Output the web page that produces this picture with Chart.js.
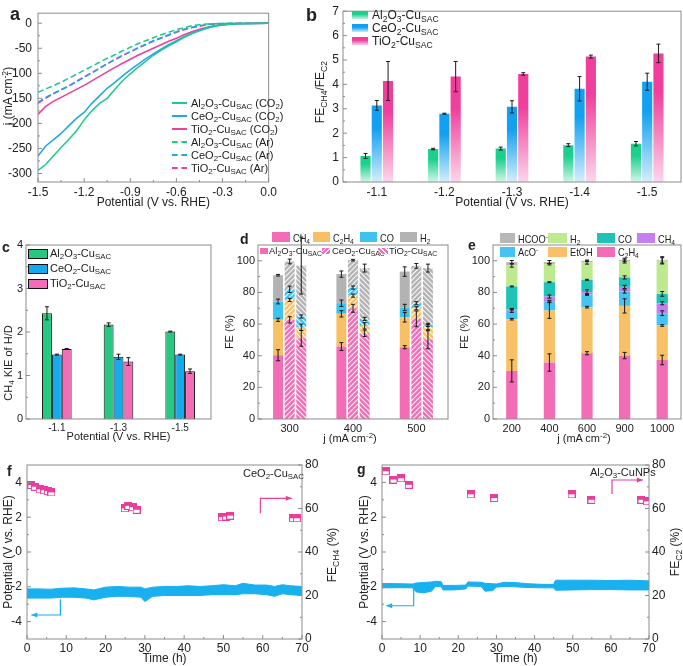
<!DOCTYPE html>
<html>
<head>
<meta charset="utf-8">
<script src="https://cdn.jsdelivr.net/npm/chart.js@4.4.1/dist/chart.umd.min.js"></script>
<style>
  body { margin: 0; background: #fff; font-family: "Liberation Sans", Arial, sans-serif; color: #222; }
  #fig { position: relative; width: 683px; height: 666px; overflow: hidden; }
  canvas { position: absolute; }
  .t { position: absolute; white-space: nowrap; font-size: 11px; line-height: 12px; }
  .n { font-size: 10.5px; transform: scaleX(0.88); transform-origin: left center; }
  .ctr { position: absolute; white-space: nowrap; font-size: 12px; transform: translate(-50%, -50%); }
  .rot { position: absolute; white-space: nowrap; font-size: 12px; transform: translate(-50%, -50%) rotate(-90deg); }
  .lab { position: absolute; font-weight: bold; font-size: 14px; line-height: 14px; }
  sub { font-size: 0.72em; vertical-align: -0.3em; line-height: 0; }
  sup { font-size: 0.72em; vertical-align: 0.5em; line-height: 0; }
  .ln { display: inline-block; width: 15px; height: 0; vertical-align: middle; margin-right: 4px; position: relative; top: -1px; }
  .bx { position: absolute; }
</style>
</head>
<body>
<div id="fig">
  <canvas id="ca" width="280" height="212" style="left:0;top:0"></canvas>
  <canvas id="cb" width="383" height="212" style="left:300px;top:0"></canvas>
  <canvas id="cc" width="215" height="223" style="left:0;top:222px"></canvas>
  <canvas id="cd" width="240" height="223" style="left:215px;top:222px"></canvas>
  <canvas id="ce" width="233" height="223" style="left:450px;top:222px"></canvas>
  <canvas id="cf" width="340" height="221" style="left:0;top:445px"></canvas>
  <canvas id="cg" width="343" height="221" style="left:340px;top:445px"></canvas>

  <!-- panel letters -->
  <div class="lab" style="left:10px;top:5px;font-size:18px;line-height:18px">a</div>
  <div class="lab" style="left:306px;top:6px;font-size:18px;line-height:18px">b</div>
  <div class="lab" style="left:2px;top:240px">c</div>
  <div class="lab" style="left:240px;top:232px">d</div>
  <div class="lab" style="left:468px;top:238px">e</div>
  <div class="lab" style="left:7px;top:464px">f</div>
  <div class="lab" style="left:357px;top:462px">g</div>

  <!-- axis titles with sub/superscripts -->
  <div class="rot" style="left:8px;top:96px">j (mA cm<sup>-2</sup>)</div>
  <div class="rot" style="left:320px;top:92px">FE<sub>CH4</sub>/FE<sub>C2</sub></div>
  <div class="rot" style="left:8px;top:363px;font-size:11px">CH<sub>4</sub> KIE of H/D</div>
  <div class="ctr" style="left:350px;top:438px;font-size:11px">j (mA cm<sup>-2</sup>)</div>
  <div class="ctr" style="left:584px;top:438px;font-size:11px">j (mA cm<sup>-2</sup>)</div>
  <div class="rot" style="left:332px;top:555px">FE<sub>CH4</sub> (%)</div>
  <div class="rot" style="left:675px;top:552px">FE<sub>C2</sub> (%)</div>

  <!-- legend a -->
  <div class="t" style="left:172px;top:97px"><span class="ln" style="border-top:2px solid #1fc98b"></span>Al<sub>2</sub>O<sub>3</sub>-Cu<sub>SAC</sub> (CO<sub>2</sub>)</div>
  <div class="t" style="left:172px;top:110px"><span class="ln" style="border-top:2px solid #1ea6e6"></span>CeO<sub>2</sub>-Cu<sub>SAC</sub> (CO<sub>2</sub>)</div>
  <div class="t" style="left:172px;top:123px"><span class="ln" style="border-top:2px solid #ef3f97"></span>TiO<sub>2</sub>-Cu<sub>SAC</sub> (CO<sub>2</sub>)</div>
  <div class="t" style="left:172px;top:136px"><span class="ln" style="border-top:2px dashed #1fc98b"></span>Al<sub>2</sub>O<sub>3</sub>-Cu<sub>SAC</sub> (Ar)</div>
  <div class="t" style="left:172px;top:149px"><span class="ln" style="border-top:2px dashed #1ea6e6"></span>CeO<sub>2</sub>-Cu<sub>SAC</sub> (Ar)</div>
  <div class="t" style="left:172px;top:162px"><span class="ln" style="border-top:2px dashed #ef3f97"></span>TiO<sub>2</sub>-Cu<sub>SAC</sub> (Ar)</div>

  <!-- legend b -->
  <div class="bx" style="left:352px;top:11px;width:16px;height:8px;background:linear-gradient(#19d08c 40%,#c9f3e2)"></div>
  <div class="t" style="left:372px;top:9px;font-size:12px">Al<sub>2</sub>O<sub>3</sub>-Cu<sub>SAC</sub></div>
  <div class="bx" style="left:352px;top:24px;width:16px;height:8px;background:linear-gradient(#12a1f0 40%,#cdeafc)"></div>
  <div class="t" style="left:372px;top:22px;font-size:12px">CeO<sub>2</sub>-Cu<sub>SAC</sub></div>
  <div class="bx" style="left:352px;top:37px;width:16px;height:8px;background:linear-gradient(#f03e9c 40%,#fbd2e8)"></div>
  <div class="t" style="left:372px;top:35px;font-size:12px">TiO<sub>2</sub>-Cu<sub>SAC</sub></div>

  <!-- legend c -->
  <div class="bx" style="left:28px;top:249px;width:18px;height:8px;background:#25c97f;border:1px solid #111"></div>
  <div class="t" style="left:50px;top:247px">Al<sub>2</sub>O<sub>3</sub>-Cu<sub>SAC</sub></div>
  <div class="bx" style="left:28px;top:264px;width:18px;height:8px;background:#13aaee;border:1px solid #111"></div>
  <div class="t" style="left:50px;top:262px">CeO<sub>2</sub>-Cu<sub>SAC</sub></div>
  <div class="bx" style="left:28px;top:279px;width:18px;height:8px;background:#f26db5;border:1px solid #111"></div>
  <div class="t" style="left:50px;top:277px">TiO<sub>2</sub>-Cu<sub>SAC</sub></div>

  <!-- legend d -->
  <div class="bx" style="left:272px;top:232px;width:18px;height:10px;background:#f36cb6"></div>
  <div class="t n" style="left:293px;top:232px">CH<sub>4</sub></div>
  <div class="bx" style="left:313px;top:232px;width:17px;height:10px;background:#f8c064"></div>
  <div class="t n" style="left:333px;top:232px">C<sub>2</sub>H<sub>4</sub></div>
  <div class="bx" style="left:360px;top:232px;width:17px;height:10px;background:#3ec3f0"></div>
  <div class="t n" style="left:380px;top:232px">CO</div>
  <div class="bx" style="left:400px;top:232px;width:17px;height:10px;background:#b3b3b3"></div>
  <div class="t n" style="left:420px;top:232px">H<sub>2</sub></div>
  <div class="bx" style="left:260px;top:248px;width:8px;height:6px;background:#f36cb6"></div>
  <div class="t" style="left:269px;top:245px;font-size:9.5px">Al<sub>2</sub>O<sub>3</sub>-Cu<sub>SAC</sub></div>
  <div class="bx" style="left:322px;top:248px;width:8px;height:6px;background:repeating-linear-gradient(135deg,#f36cb6 0 2.2px,#fff 2.2px 3.3px)"></div>
  <div class="t" style="left:332px;top:245px;font-size:9.5px">CeO<sub>2</sub>-Cu<sub>SAC</sub></div>
  <div class="bx" style="left:378px;top:248px;width:10px;height:6px;background:repeating-linear-gradient(45deg,#f36cb6 0 2.2px,#fff 2.2px 3.3px)"></div>
  <div class="t" style="left:389px;top:245px;font-size:9.5px">TiO<sub>2</sub>-Cu<sub>SAC</sub></div>

  <!-- legend e -->
  <div class="bx" style="left:500px;top:233px;width:15px;height:10px;background:#b8b8b8"></div>
  <div class="t n" style="left:518px;top:233px">HCOO<sup>-</sup></div>
  <div class="bx" style="left:548px;top:233px;width:19px;height:10px;background:#bde98f"></div>
  <div class="t n" style="left:570px;top:233px">H<sub>2</sub></div>
  <div class="bx" style="left:597px;top:233px;width:18px;height:10px;background:#1cc3b6"></div>
  <div class="t n" style="left:618px;top:233px">CO</div>
  <div class="bx" style="left:637px;top:233px;width:18px;height:10px;background:#c57ff0"></div>
  <div class="t n" style="left:658px;top:233px">CH<sub>4</sub></div>
  <div class="bx" style="left:500px;top:247px;width:15px;height:10px;background:#45c3f3"></div>
  <div class="t n" style="left:518px;top:246px">AcO<sup>-</sup></div>
  <div class="bx" style="left:548px;top:247px;width:19px;height:10px;background:#f8c168"></div>
  <div class="t n" style="left:570px;top:246px">EtOH</div>
  <div class="bx" style="left:597px;top:247px;width:18px;height:10px;background:#f36cb6"></div>
  <div class="t n" style="left:618px;top:246px">C<sub>2</sub>H<sub>4</sub></div>

  <!-- in-plot labels f, g -->
  <div class="t" style="left:243px;top:467px">CeO<sub>2</sub>-Cu<sub>SAC</sub></div>
  <div class="t" style="left:590px;top:466px">Al<sub>2</sub>O<sub>3</sub>-CuNPs</div>
</div>

<script>
// ---------- DATA ----------

// a: LSV curves
const aPot = [-1.5, -1.45, -1.4, -1.35, -1.3, -1.25, -1.2, -1.15, -1.1, -1.05, -1.0, -0.95, -0.9, -0.85, -0.8, -0.75, -0.7, -0.65, -0.6, -0.55, -0.5, -0.45, -0.4, -0.35, -0.3, -0.25, -0.2, -0.1, 0];
const aAlCO2 = [-294, -282, -265, -248, -232, -215, -193, -175, -160, -150, -132, -115, -101, -88, -76, -64, -54, -45, -37, -28, -21, -15, -10, -6, -3.5, -2, -1, -0.5, 0];
const aCeCO2 = [-265, -245, -233, -220, -205, -190, -178, -160, -145, -130, -118, -105, -93, -82, -71, -61, -52, -43, -35, -27, -20, -14, -9, -5, -3, -1.5, -1, -0.5, 0];
const aTiCO2 = [-182, -166, -156, -148, -140, -132, -124, -115, -106, -97, -88, -80, -72, -64, -57, -50, -43, -36, -30, -23, -17, -12, -8, -5, -3, -2, -1, -0.5, 0];
const aAlAr = [-138, -131, -125, -118, -110, -102, -94, -86, -78, -70, -63, -55, -48, -41, -35, -29, -23, -18, -13, -9, -5, -3, -1.5, -1, -0.5, -0.3, -0.2, 0, 0];
const aCeAr = [-158, -148, -140, -133, -126, -117, -108, -99, -90, -81, -72, -64, -57, -49, -42, -35, -29, -23, -17, -12, -8, -5, -2.5, -1, -0.5, -0.3, -0.2, 0, 0];
const aTiAr = [-160, -150, -141, -133, -125, -116, -107, -99, -90, -81, -73, -65, -57, -50, -43, -36, -30, -24, -18, -13, -9, -6, -3, -1.5, -1, -0.5, -0.3, 0, 0];
const aXTicks = [-1.5, -1.2, -0.9, -0.6, -0.3, 0];
const aYTicks = [-300, -250, -200, -150, -100, -50, 0];

// b: FE_CH4 / FE_C2
const bCats = ['-1.1', '-1.2', '-1.3', '-1.4', '-1.5'];
const bAl = [1.07, 1.35, 1.37, 1.51, 1.57];
const bAlErr = [0.1, 0.03, 0.06, 0.06, 0.09];
const bCe = [3.14, 2.80, 3.08, 3.82, 4.11];
const bCeErr = [0.2, 0.02, 0.25, 0.5, 0.35];
const bTi = [4.14, 4.32, 4.43, 5.14, 5.27];
const bTiErr = [0.8, 0.62, 0.05, 0.06, 0.38];
const bYTicks = [0, 1, 2, 3, 4, 5, 6, 7];

// c: CH4 KIE of H/D
const cCats = ['-1.1', '-1.3', '-1.5'];
const cAl = [2.43, 2.17, 2.01];
const cAlErr = [0.15, 0.04, 0.01];
const cCe = [1.48, 1.43, 1.48];
const cCeErr = [0.01, 0.06, 0.01];
const cTi = [1.61, 1.32, 1.10];
const cTiErr = [0.01, 0.09, 0.05];
const cYTicks = [0, 1, 2, 3, 4];

// d: FE by product, three catalysts
const dCats = ['300', '400', '500'];
const dAlCH4 = [40.3, 45.8, 45.4], dAlC2H4 = [22.4, 20.7, 18.9], dAlCO = [11.6, 6.7, 6.2], dAlH2 = [16.6, 18.4, 22.7];
const dCeCH4 = [62.7, 70.0, 63.3], dCeC2H4 = [12.6, 8.0, 6.7], dCeCO = [6.7, 5.1, 3.2], dCeH2 = [17.6, 17.3, 23.6];
const dTiCH4 = [51.0, 54.2, 50.4], dTiC2H4 = [7.0, 4.7, 7.4], dTiCO = [6.8, 4.4, 1.7], dTiH2 = [32.2, 32.1, 35.9];
const dAlErr = [[3.5, 2.5, 1], [1, 2, 3], [1.5, 2, 2], [0.5, 2, 3]];
const dCeErr = [[2, 2.5, 5], [1, 1, 1], [2, 1, 1], [1.5, 0.5, 1.5]];
const dTiErr = [[5, 2, 6], [2, 2, 2], [1, 1, 1], [18, 2.5, 2.5]];
const feTicks = [0, 20, 40, 60, 80, 100];

// e: FE by product vs current density
const eCats = ['200', '400', '600', '900', '1000'];
const eC2H4 = [30.4, 35.7, 41.6, 40.1, 37.3];
const eEtOH = [32.7, 32.9, 29.1, 31.4, 21.8];
const eAcO = [5.3, 5.9, 8.0, 9.1, 7.8];
const eCH4 = [1.0, 2.9, 1.5, 2.9, 6.3];
const eCO = [14.4, 9.1, 7.8, 6.0, 5.9];
const eH2 = [13.2, 11.4, 10.9, 10.1, 20.9];
const eHCOO = [2.2, 1.3, 1.1, 1.0, 0.6];
const eErr = [[7, 5.5, 1, 2, 3], [0.5, 5, 0.5, 4.5, 0.5], [1, 0.5, 0.5, 1, 1.5], [0.5, 1, 1.5, 1, 1], [0.3, 0.3, 0.3, 1, 1.5], [1, 0.5, 1, 1, 2], [1, 1, 0.5, 1, 2]];

// f: stability CeO2-CuSAC
const fTime = [0, 3, 6, 9, 12, 15, 17, 20, 23, 26, 29, 30, 32, 35, 38, 41, 44, 47, 50, 53, 55, 58, 61, 63, 65, 67, 70];
const fHigh = [-2.12, -2.12, -2.14, -2.08, -2.06, -2.12, -2.18, -2.02, -1.98, -2.02, -2.02, -2.12, -2.02, -1.98, -1.98, -1.94, -1.98, -1.94, -1.88, -1.94, -1.8, -1.9, -1.9, -1.98, -1.88, -1.94, -1.98];
const fLow = [-2.65, -2.65, -2.65, -2.6, -2.6, -2.65, -2.75, -2.6, -2.55, -2.55, -2.6, -2.85, -2.55, -2.5, -2.5, -2.5, -2.5, -2.45, -2.45, -2.45, -2.4, -2.4, -2.45, -2.55, -2.4, -2.45, -2.5];
const fFeTime = [1.1, 2.0, 3.2, 4.3, 5.3, 6.2, 24.9, 25.8, 26.9, 27.9, 49.6, 50.6, 51.7, 67.7, 68.7];
const fFe = [70.8, 70.0, 68.8, 68.4, 68.0, 67.4, 60.1, 61.2, 60.6, 59.4, 56.0, 56.3, 56.7, 55.5, 55.5];

// g: stability Al2O3-CuNPs
const gTime = [0, 4, 8, 9, 11, 13, 14, 15.5, 16, 19, 22, 22.5, 26, 27, 29, 30, 32, 35, 38, 42, 45, 45.5, 50, 55, 60, 65, 70];
const gHigh = [-1.81, -1.82, -1.84, -1.78, -1.75, -1.72, -1.68, -1.70, -1.92, -1.92, -1.90, -1.72, -1.74, -1.80, -1.82, -1.84, -1.74, -1.76, -1.82, -1.86, -1.86, -1.62, -1.62, -1.62, -1.64, -1.62, -1.66];
const gLow = [-2.06, -2.05, -2.06, -2.30, -2.34, -2.25, -1.98, -2.0, -2.18, -2.18, -2.12, -1.96, -1.98, -2.25, -2.22, -2.02, -1.98, -2.00, -2.04, -2.06, -2.06, -2.20, -2.18, -2.16, -2.16, -2.18, -2.18];
const gFeTime = [1, 3, 5, 7, 23.3, 29.4, 49.7, 54.9, 68, 69.5];
const gFe = [77.1, 73.3, 73.9, 70.9, 66.5, 64.8, 66.5, 64.0, 64.0, 63.3];

const timeTicks = [0, 10, 20, 30, 40, 50, 60, 70];
const potTicks = [-4, -2, 0, 2, 4];
const fePctTicks = [0, 20, 40, 60, 80];

// ---------- STYLE / HELPERS ----------
const GREEN = '#1fc98b', BLUE = '#1ea6e6', PINK = '#ef3f97';
const BAND = '#18b0ef', SQ = '#ea3d9b';

Chart.defaults.font.family = '"Liberation Sans", Arial, sans-serif';
Chart.defaults.font.size = 11;
Chart.defaults.color = '#222';
Chart.defaults.animation = false;
Chart.defaults.plugins.legend.display = false;
Chart.defaults.plugins.tooltip.enabled = false;

const fixW = w => s => { s.width = w; };
const fixH = h => s => { s.height = h; };
const setTicks = list => s => { s.ticks = list.map(v => ({ value: v })); };
const noGrid = () => ({ display: false, drawTicks: false, tickLength: 0 });
const noBorder = { display: false };

// frame + inward major/minor ticks
const framePlugin = {
  id: 'frame',
  afterDatasetsDraw(chart) {
    const { ctx, chartArea: a } = chart;
    ctx.save();
    ctx.strokeStyle = '#8c8c8c';
    ctx.lineWidth = 1;
    ctx.strokeRect(a.left, a.top, a.right - a.left, a.bottom - a.top);
    Object.values(chart.scales).forEach(s => {
      if (s.type !== 'linear') return;
      const px = s.ticks.map(t => s.getPixelForValue(t.value));
      const marks = px.map(p => [p, 4]);
      for (let i = 0; i < px.length - 1; i++) marks.push([(px[i] + px[i + 1]) / 2, 2]);
      ctx.beginPath();
      marks.forEach(([p, len]) => {
        if (s.position === 'left') { ctx.moveTo(a.left, p); ctx.lineTo(a.left + len, p); }
        else if (s.position === 'right') { ctx.moveTo(a.right, p); ctx.lineTo(a.right - len, p); }
        else { ctx.moveTo(p, a.bottom); ctx.lineTo(p, a.bottom - len); }
      });
      ctx.stroke();
    });
    ctx.restore();
  }
};

// error bars from dataset.errors
const errPlugin = {
  id: 'errbars',
  afterDatasetsDraw(chart) {
    const ctx = chart.ctx;
    ctx.save();
    ctx.strokeStyle = '#1a1a1a';
    ctx.lineWidth = 1;
    chart.data.datasets.forEach((ds, i) => {
      if (!ds.errors) return;
      const meta = chart.getDatasetMeta(i);
      const ys = chart.scales[meta.yAxisID];
      meta.data.forEach((el, j) => {
        const e = ds.errors[j];
        if (!e) return;
        const d = Math.abs(ys.getPixelForValue(0) - ys.getPixelForValue(e));
        ctx.beginPath();
        ctx.moveTo(el.x, el.y - d); ctx.lineTo(el.x, el.y + d);
        ctx.moveTo(el.x - 2, el.y - d); ctx.lineTo(el.x + 2, el.y - d);
        ctx.moveTo(el.x - 2, el.y + d); ctx.lineTo(el.x + 2, el.y + d);
        ctx.stroke();
      });
    });
    ctx.restore();
  }
};

// elbow arrows for axis hints (f, g)
function arrows(list) {
  return {
    id: 'arrows',
    afterDatasetsDraw(chart) {
      const ctx = chart.ctx, xs = chart.scales.x;
      ctx.save();
      ctx.lineWidth = 1.2;
      list.forEach(a => {
        const ys = chart.scales[a.axis];
        const pts = a.path.map(p => [xs.getPixelForValue(p[0]), ys.getPixelForValue(p[1])]);
        ctx.strokeStyle = a.color; ctx.fillStyle = a.color;
        ctx.beginPath();
        pts.forEach((p, i) => i ? ctx.lineTo(p[0], p[1]) : ctx.moveTo(p[0], p[1]));
        ctx.stroke();
        const [x1, y1] = pts[pts.length - 2], [x2, y2] = pts[pts.length - 1];
        const ang = Math.atan2(y2 - y1, x2 - x1);
        ctx.beginPath();
        ctx.moveTo(x2, y2);
        ctx.lineTo(x2 - 6 * Math.cos(ang) - 2.5 * Math.sin(ang), y2 - 6 * Math.sin(ang) + 2.5 * Math.cos(ang));
        ctx.lineTo(x2 - 6 * Math.cos(ang) + 2.5 * Math.sin(ang), y2 - 6 * Math.sin(ang) - 2.5 * Math.cos(ang));
        ctx.closePath();
        ctx.fill();
      });
      ctx.restore();
    }
  };
}

function hatch(color, back) {
  const c = document.createElement('canvas');
  c.width = 5; c.height = 5;
  const x = c.getContext('2d');
  x.fillStyle = color; x.fillRect(0, 0, 5, 5);
  x.strokeStyle = 'rgba(255,255,255,0.9)'; x.lineWidth = 1.1;
  x.beginPath();
  if (!back) { x.moveTo(-1, 6); x.lineTo(6, -1); x.moveTo(-1, 1); x.lineTo(1, -1); x.moveTo(4, 6); x.lineTo(6, 4); }
  else { x.moveTo(-1, -1); x.lineTo(6, 6); x.moveTo(-1, 4); x.lineTo(1, 6); x.moveTo(4, -1); x.lineTo(6, 1); }
  x.stroke();
  return x.createPattern(c, 'repeat');
}

function squareImg() {
  const c = document.createElement('canvas');
  c.width = 8; c.height = 8;
  const x = c.getContext('2d');
  x.fillStyle = '#fff'; x.fillRect(0, 0, 8, 8);
  x.fillStyle = SQ; x.fillRect(0, 0, 8, 4);
  x.strokeStyle = SQ; x.lineWidth = 1; x.strokeRect(0.5, 0.5, 7, 7);
  return c;
}

function gradFill(col, light) {
  return c => {
    const ch = c.chart, ca = ch.chartArea;
    if (!ca || c.type !== 'data') return col;
    const top = ch.scales.y.getPixelForValue(c.raw);
    const g = ch.ctx.createLinearGradient(0, top, 0, ca.bottom);
    g.addColorStop(0, col); g.addColorStop(0.3, col); g.addColorStop(1, light);
    return g;
  };
}

function curve(vals, color, dash) {
  return {
    data: aPot.map((x, i) => ({ x, y: vals[i] })),
    borderColor: color, borderWidth: 1.5, borderDash: dash,
    pointRadius: 0, tension: 0
  };
}

// ---------- a ----------
new Chart(document.getElementById('ca'), {
  type: 'line',
  data: {
    datasets: [
      curve(aAlCO2, GREEN, []), curve(aCeCO2, BLUE, []), curve(aTiCO2, PINK, []),
      curve(aAlAr, GREEN, [6, 3]), curve(aCeAr, BLUE, [6, 3]), curve(aTiAr, PINK, [6, 3])
    ]
  },
  options: {
    responsive: false,
    layout: { padding: { top: 5, right: 8 } },
    scales: {
      x: {
        type: 'linear', min: -1.5, max: 0,
        afterBuildTicks: setTicks(aXTicks), afterFit: fixH(30),
        grid: noGrid(), border: noBorder,
        ticks: { font: { size: 12 }, padding: 3, maxRotation: 0, callback: v => v.toFixed(1) },
        title: { display: true, text: 'Potential (V vs. RHE)', font: { size: 12 }, padding: { top: 0, bottom: 2 } }
      },
      y: {
        min: -317, max: 20,
        afterBuildTicks: setTicks(aYTicks), afterFit: fixW(38),
        grid: noGrid(), border: noBorder,
        ticks: { font: { size: 12 }, padding: 6 }
      }
    }
  },
  plugins: [framePlugin]
});

// ---------- b ----------
new Chart(document.getElementById('cb'), {
  type: 'bar',
  data: {
    labels: bCats,
    datasets: [
      { data: bAl, errors: bAlErr, backgroundColor: gradFill('#19d08c', '#d3f5e8') },
      { data: bCe, errors: bCeErr, backgroundColor: gradFill('#12a1f0', '#d5eefc') },
      { data: bTi, errors: bTiErr, backgroundColor: gradFill('#f03e9c', '#fcd7ea') }
    ]
  },
  options: {
    responsive: false,
    layout: { padding: { top: 5, right: 2 } },
    datasets: { bar: { categoryPercentage: 0.5, barPercentage: 0.9 } },
    scales: {
      x: {
        afterFit: fixH(30), grid: noGrid(), border: noBorder,
        ticks: { font: { size: 12 }, padding: 3 },
        title: { display: true, text: 'Potential (V vs. RHE)', font: { size: 12 }, padding: { top: 0, bottom: 2 } }
      },
      y: {
        min: 0, max: 7,
        afterBuildTicks: setTicks(bYTicks), afterFit: fixW(43),
        grid: noGrid(), border: noBorder,
        ticks: { font: { size: 12 }, padding: 4 }
      }
    }
  },
  plugins: [errPlugin, framePlugin]
});

// ---------- c ----------
new Chart(document.getElementById('cc'), {
  type: 'bar',
  data: {
    labels: cCats,
    datasets: [
      { data: cAl, errors: cAlErr, backgroundColor: '#25c97f' },
      { data: cCe, errors: cCeErr, backgroundColor: '#13aaee' },
      { data: cTi, errors: cTiErr, backgroundColor: '#f26db5' }
    ]
  },
  options: {
    responsive: false,
    layout: { padding: { top: 23, right: 4 } },
    datasets: { bar: { categoryPercentage: 0.48, barPercentage: 1, borderColor: '#111', borderWidth: 1 } },
    scales: {
      x: {
        afterFit: fixH(26), grid: noGrid(), border: noBorder,
        ticks: { font: { size: 10 }, padding: 3 },
        title: { display: true, text: 'Potential (V vs. RHE)', font: { size: 11 }, padding: { top: 0, bottom: 1 } }
      },
      y: {
        min: 0, max: 4,
        afterBuildTicks: setTicks(cYTicks), afterFit: fixW(26),
        grid: noGrid(), border: noBorder,
        ticks: { font: { size: 11 }, padding: 3 }
      }
    }
  },
  plugins: [errPlugin, framePlugin]
});

// ---------- d ----------
const dColors = ['#f36cb6', '#f8c064', '#3ec3f0', '#b3b3b3'];
function dSets(stack, vals, errs, pat) {
  return vals.map((v, k) => ({
    data: v, errors: errs[k], stack,
    backgroundColor: pat === undefined ? dColors[k] : hatch(dColors[k], pat)
  }));
}
new Chart(document.getElementById('cd'), {
  type: 'bar',
  data: {
    labels: dCats,
    datasets: [
      ...dSets('Al', [dAlCH4, dAlC2H4, dAlCO, dAlH2], dAlErr),
      ...dSets('Ce', [dCeCH4, dCeC2H4, dCeCO, dCeH2], dCeErr, false),
      ...dSets('Ti', [dTiCH4, dTiC2H4, dTiCO, dTiH2], dTiErr, true)
    ]
  },
  options: {
    responsive: false,
    layout: { padding: { top: 23, right: 7 } },
    datasets: { bar: { categoryPercentage: 0.55, barPercentage: 0.86 } },
    scales: {
      x: {
        stacked: true, afterFit: fixH(26), grid: noGrid(), border: noBorder,
        ticks: { font: { size: 11 }, padding: 3 }
      },
      y: {
        stacked: true, min: 0, max: 110,
        afterBuildTicks: setTicks(feTicks), afterFit: fixW(43),
        grid: noGrid(), border: noBorder,
        ticks: { font: { size: 11 }, padding: 3 },
        title: { display: true, text: 'FE (%)', font: { size: 11 }, padding: { top: 8, bottom: 0 } }
      }
    }
  },
  plugins: [errPlugin, framePlugin]
});

// ---------- e ----------
const eSeries = [eC2H4, eEtOH, eAcO, eCH4, eCO, eH2, eHCOO];
const eColors = ['#f36cb6', '#f8c168', '#45c3f3', '#c57ff0', '#1cc3b6', '#bde98f', '#b8b8b8'];
new Chart(document.getElementById('ce'), {
  type: 'bar',
  data: {
    labels: eCats,
    datasets: eSeries.map((v, k) => ({ data: v, errors: eErr[k], backgroundColor: eColors[k] }))
  },
  options: {
    responsive: false,
    layout: { padding: { top: 23, right: 2 } },
    datasets: { bar: { categoryPercentage: 0.3, barPercentage: 1 } },
    scales: {
      x: {
        stacked: true, afterFit: fixH(26), grid: noGrid(), border: noBorder,
        ticks: { font: { size: 11 }, padding: 3 }
      },
      y: {
        stacked: true, min: 0, max: 110,
        afterBuildTicks: setTicks(feTicks), afterFit: fixW(43),
        grid: noGrid(), border: noBorder,
        ticks: { font: { size: 11 }, padding: 3 },
        title: { display: true, text: 'FE (%)', font: { size: 11 }, padding: { top: 8, bottom: 0 } }
      }
    }
  },
  plugins: [errPlugin, framePlugin]
});

// ---------- f, g ----------
function stability(id, time, high, low, feT, fe, yW, y2W, leftPad, arrowList) {
  const sq = squareImg();
  return new Chart(document.getElementById(id), {
    type: 'line',
    data: {
      datasets: [
        { data: feT.map((x, i) => ({ x, y: fe[i] })), yAxisID: 'y2', showLine: false,
          pointStyle: sq, pointRadius: 4 },
        { data: time.map((x, i) => ({ x, y: high[i] })), yAxisID: 'y', borderColor: BAND,
          backgroundColor: BAND, borderWidth: 1, pointRadius: 0, tension: 0, fill: '+1' },
        { data: time.map((x, i) => ({ x, y: low[i] })), yAxisID: 'y', borderColor: BAND,
          borderWidth: 1, pointRadius: 0, tension: 0, fill: false }
      ]
    },
    options: {
      responsive: false,
      layout: { padding: { top: 20 } },
      scales: {
        x: {
          type: 'linear', min: 0, max: 70,
          afterBuildTicks: setTicks(timeTicks), afterFit: fixH(27),
          grid: noGrid(), border: noBorder,
          ticks: { font: { size: 12 }, padding: 2 },
          title: { display: true, text: 'Time (h)', font: { size: 12 }, padding: { top: 0, bottom: 0 } }
        },
        y: {
          position: 'left', min: -5, max: 5,
          afterBuildTicks: setTicks(potTicks), afterFit: fixW(yW),
          grid: noGrid(), border: noBorder,
          ticks: { font: { size: 12 }, padding: 5 },
          title: { display: true, text: 'Potential (V vs. RHE)', font: { size: 12 }, padding: { top: leftPad, bottom: 0 } }
        },
        y2: {
          position: 'right', min: 0, max: 80,
          afterBuildTicks: setTicks(fePctTicks), afterFit: fixW(y2W),
          grid: noGrid(), border: noBorder,
          ticks: { font: { size: 12 }, padding: 3 }
        }
      }
    },
    plugins: [framePlugin, arrows(arrowList)]
  });
}

stability('cf', fTime, fHigh, fLow, fFeTime, fFe, 27, 38, 1, [
  { axis: 'y', color: BAND, path: [[8.5, -2.72], [8.5, -3.62], [1.1, -3.62]] },
  { axis: 'y2', color: SQ, path: [[59.4, 57.8], [59.4, 64.7], [67.4, 64.7]] }
]);
stability('cg', gTime, gHigh, gLow, gFeTime, gFe, 42, 34, 17, [
  { axis: 'y', color: BAND, path: [[8.3, -2.09], [8.3, -3.09], [1.1, -3.09]] },
  { axis: 'y2', color: SQ, path: [[60.3, 66.7], [60.3, 73.1], [68.4, 73.1]] }
]);
</script>
</body>
</html>
